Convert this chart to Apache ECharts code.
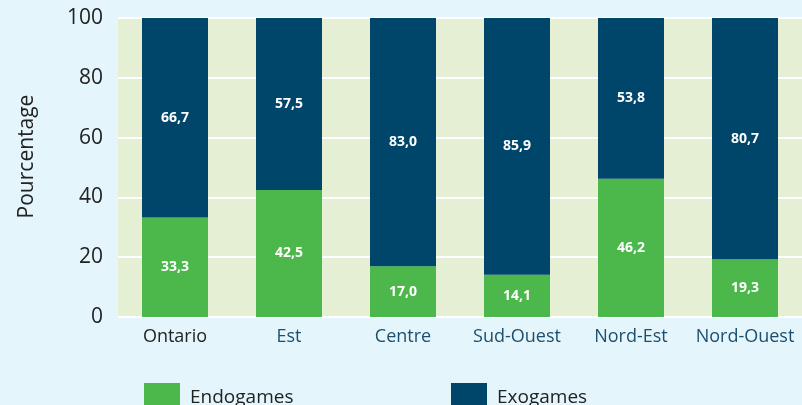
<!DOCTYPE html>
<html>
<head>
<meta charset="utf-8">
<script src="https://cdn.jsdelivr.net/npm/echarts@6/dist/echarts.min.js"></script>
<style>
html,body{margin:0;padding:0;background:#e5f5fc;}
#chart{width:802px;height:405px;}
</style>
</head>
<body>
<div id="chart"></div>
<script>
var categories = ["Ontario", "Est", "Centre", "Sud-Ouest", "Nord-Est", "Nord-Ouest"];
var endogames = [33.3, 42.5, 17.0, 14.1, 46.2, 19.3];
var exogames = [66.7, 57.5, 83.0, 85.9, 53.8, 80.7];
var yTicks = [0, 20, 40, 60, 80, 100];

var font = "Open Sans";
var myChart = echarts.init(document.getElementById("chart"));

function fmt(p){
	return p.value.toFixed(1).replace(".", ",");
}

var legendText = {fontSize: 19, color: "#222", fontFamily: font, padding: [0, 0, 0, 5]};

var option = {
	backgroundColor: "#e5f5fc",
	textStyle: {fontFamily: font},
	animation: false,
	grid: {
		left: 118,
		top: 18,
		width: 688,
		height: 299,
		show: true,
		backgroundColor: "#e5efd3",
		borderWidth: 0
	},
	legend: [{
		data: ["Endogames"],
		left: 139,
		top: 378,
		icon: "rect",
		itemWidth: 36,
		itemHeight: 30,
		textStyle: legendText
	}, {
		data: ["Exogames"],
		left: 446,
		top: 378,
		icon: "rect",
		itemWidth: 36,
		itemHeight: 30,
		textStyle: legendText
	}],
	xAxis: {
		type: "category",
		data: categories,
		axisLine: {show: false},
		axisTick: {show: false},
		axisLabel: {
			interval: 0,
			margin: 11,
			fontSize: 18,
			fontFamily: font,
			color: function(v, i){ return i === 0 ? "#222" : "#1b4f6d"; }
		}
	},
	yAxis: {
		type: "value",
		min: 0,
		max: 100,
		interval: 20,
		name: "Pourcentage",
		nameLocation: "middle",
		nameGap: 80,
		nameTextStyle: {fontSize: 21, color: "#222", fontFamily: font, padding: [0, 0, 0, 22]},
		axisLine: {show: false},
		axisTick: {show: false},
		axisLabel: {
			margin: 15,
			fontSize: 21,
			color: "#222",
			fontFamily: font,
			formatter: function(v){ return yTicks.indexOf(v) >= 0 ? String(v) : ""; }
		},
		splitLine: {show: true, lineStyle: {color: "#ffffff", width: 2}}
	},
	series: [{
		name: "Endogames",
		type: "bar",
		stack: "total",
		barWidth: 66,
		data: endogames,
		itemStyle: {color: "#4cb84c"},
		label: {show: true, position: "inside", color: "#fff", fontWeight: "bold", fontSize: 14, formatter: fmt}
	}, {
		name: "Exogames",
		type: "bar",
		stack: "total",
		barWidth: 66,
		data: exogames,
		itemStyle: {color: "#00466b"},
		label: {show: true, position: "inside", color: "#fff", fontWeight: "bold", fontSize: 14, formatter: fmt}
	}]
};
myChart.setOption(option);
</script>
</body>
</html>
